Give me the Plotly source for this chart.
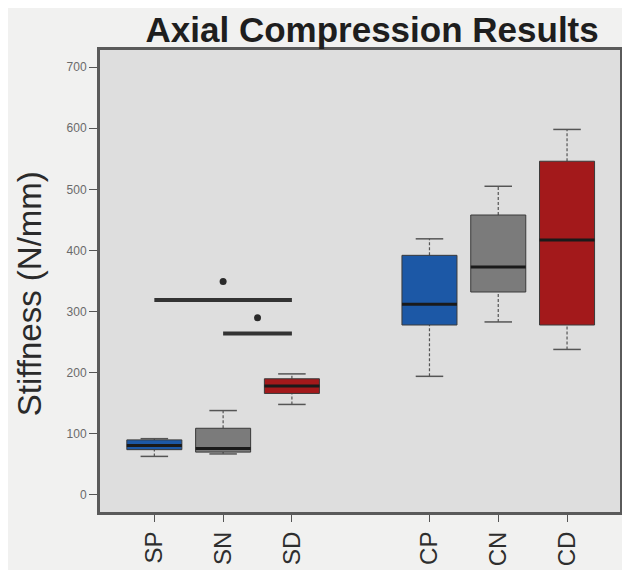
import plotly.graph_objects as go

# ---- data ----
groups = ["SP", "SN", "SD", "CP", "CN", "CD"]
positions = [1, 2, 3, 5, 6, 7]
whisker_low = [63, 67, 148, 194, 283, 238]
q1 = [74, 70, 166, 278, 332, 278]
medians = [81, 76, 178, 312, 373, 417]
q3 = [90, 109, 190, 392, 458, 546]
whisker_high = [92, 138, 198, 419, 505, 598]
colors = ["#1c58a6", "#7b7b7b", "#a3191b", "#1c58a6", "#7b7b7b", "#a3191b"]

sig_x0 = [1, 2]
sig_x1 = [3, 3]
sig_y = [319, 264]
star_x = [2, 2.5]
star_y = [349, 290]

y_ticks = [0, 100, 200, 300, 400, 500, 600, 700]

box_w = 0.8
cap_w = 0.4

fig = go.Figure()

for g, x, lo, a, m, b, hi, c in zip(groups, positions, whisker_low, q1, medians, q3, whisker_high, colors):
    # whiskers (dashed)
    fig.add_trace(go.Scatter(x=[x, x, None, x, x], y=[lo, a, None, b, hi], mode="lines",
                             line=dict(color="#555555", width=1.2, dash="3px,2px"),
                             hoverinfo="skip", showlegend=False))
    # caps
    fig.add_trace(go.Scatter(x=[x - cap_w / 2, x + cap_w / 2, None, x - cap_w / 2, x + cap_w / 2],
                             y=[lo, lo, None, hi, hi], mode="lines",
                             line=dict(color="#555555", width=1.5),
                             hoverinfo="skip", showlegend=False))
    # box
    fig.add_trace(go.Scatter(x=[x - box_w / 2, x + box_w / 2, x + box_w / 2, x - box_w / 2, x - box_w / 2],
                             y=[a, a, b, b, a], mode="lines", fill="toself", fillcolor=c,
                             line=dict(color="#3a3a3a", width=1),
                             name=g, hoverinfo="skip", showlegend=False))
    # median
    fig.add_trace(go.Scatter(x=[x - box_w / 2, x + box_w / 2], y=[m, m], mode="lines",
                             line=dict(color="#1a1a1a", width=3),
                             hoverinfo="skip", showlegend=False))

# significance bars
for x0, x1, y in zip(sig_x0, sig_x1, sig_y):
    fig.add_trace(go.Scatter(x=[x0, x1], y=[y, y], mode="lines",
                             line=dict(color="#333333", width=4),
                             hoverinfo="skip", showlegend=False))
fig.add_trace(go.Scatter(x=star_x, y=star_y, mode="markers",
                         marker=dict(color="#2a2a2a", size=7, symbol="circle"),
                         hoverinfo="skip", showlegend=False))

fig.add_annotation(text="Stiffness (N/mm)", xref="paper", yref="paper", x=-0.135, y=0.473,
                   xanchor="center", yanchor="middle", textangle=-90, showarrow=False,
                   font=dict(family="Liberation Sans, Arial", size=33, color="#2a2a2a"))

fig.update_layout(
    width=630, height=570,
    margin=dict(l=92, r=18, t=42, b=63),
    paper_bgcolor="#f1f1f0",
    plot_bgcolor="#dedede",
    title=dict(text="<b>Axial Compression Results</b>", x=0.578, xanchor="center",
               y=0.961, yanchor="middle",
               font=dict(family="Liberation Sans, Arial", size=35, color="#1e1e1e")),
    font=dict(family="Liberation Sans, Arial"),
)
fig.update_xaxes(range=[0.21, 7.77], tickmode="array", tickvals=positions, ticktext=groups,
                 tickangle=-90, ticks="outside", ticklen=7, tickcolor="#555555",
                 tickfont=dict(size=24, color="#2e2e2e"),
                 showgrid=False, zeroline=False,
                 showline=True, mirror=True, linecolor="#5a5a5a", linewidth=3)
fig.update_yaxes(range=[-28, 728], tickmode="array", tickvals=y_ticks,
                 ticktext=[str(v) for v in y_ticks],
                 ticks="outside", ticklen=8, tickcolor="#555555",
                 tickfont=dict(size=12, color="#6a6a6a"),
                 showgrid=False, zeroline=False,
                 showline=True, mirror=True, linecolor="#5a5a5a", linewidth=3)

fig.write_html("out.html")
